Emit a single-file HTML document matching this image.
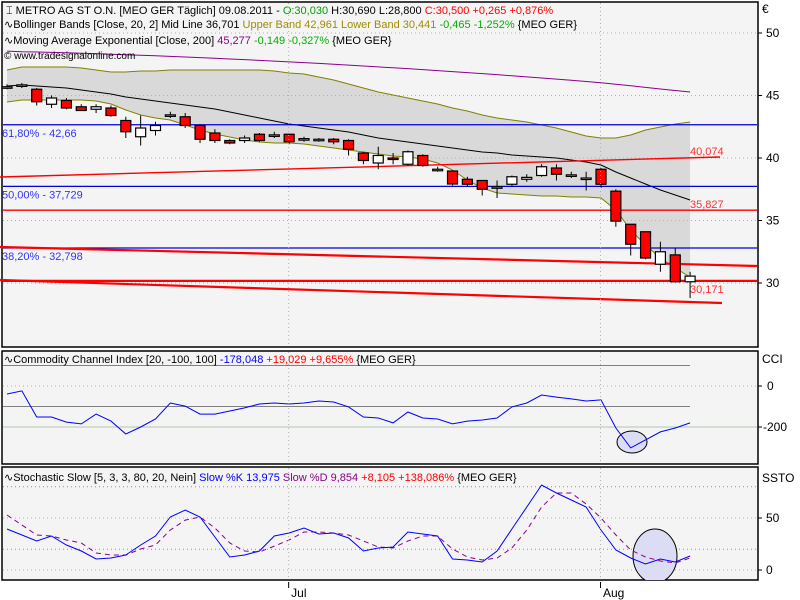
<!DOCTYPE html>
<html><head><meta charset="utf-8">
<style>
body{margin:0;background:#fff;}
svg{display:block;font-family:"Liberation Sans",sans-serif;}
</style></head>
<body>
<svg id="c" width="800" height="600" viewBox="0 0 800 600">
<rect x="0" y="0" width="800" height="600" fill="#ffffff"/>
<rect x="2" y="2" width="756" height="345" fill="#f4f4f4" stroke="#000" stroke-width="1.5"/>
<rect x="2" y="351" width="756" height="113" fill="#f4f4f4" stroke="#000" stroke-width="1.5"/>
<rect x="2" y="467" width="756" height="113" fill="#f4f4f4" stroke="#000" stroke-width="1.5"/>
<g id="price"></g>
<g id="cci"></g>
<g id="sto"></g>
<g font-size="11">
<text x="6" y="14">⌶ METRO AG ST O.N. [MEO GER  Täglich] 09.08.2011 - <tspan fill="#00a000">O:30,030</tspan> H:30,690 L:28,800 <tspan fill="#ff0000">C:30,500 +0,265 +0,876%</tspan></text>
<text x="4" y="28">∿Bollinger Bands [Close, 20, 2] Mid Line 36,701 <tspan fill="#a08c00">Upper Band 42,961 Lower Band 30,441</tspan> <tspan fill="#00b000">-0,465 -1,252%</tspan> {MEO GER}</text>
<text x="4" y="44">∿Moving Average Exponential [Close, 200] <tspan fill="#8b008b">45,277</tspan> <tspan fill="#00b000">-0,149 -0,327%</tspan> {MEO GER}</text>
<text x="4" y="59" font-size="10">© www.tradesignalonline.com</text>
</g>
<text x="4" y="363" font-size="11">∿Commodity Channel Index [20, -100, 100] <tspan fill="#0000ff">-178,048</tspan> <tspan fill="#ff0000">+19,029 +9,655%</tspan> {MEO GER}</text>
<text x="4" y="481" font-size="11">∿Stochastic Slow [5, 3, 3, 80, 20, Nein] <tspan fill="#0000ff">Slow %K 13,975</tspan> <tspan fill="#8b008b">Slow %D 9,854</tspan> <tspan fill="#ff0000">+8,105 +138,086%</tspan> {MEO GER}</text>
<g font-size="12">
<text x="762" y="13">€</text>
<text x="762" y="363">CCI</text>
<text x="762" y="482">SSTO</text>
</g>
<g id="xax" font-size="12"></g>
</svg>
<script>
const NS="http://www.w3.org/2000/svg";
const opens=[45.7,45.8,45.5,44.3,44.6,44.1,43.9,44.0,43.0,41.7,42.2,43.4,43.3,42.6,42.0,41.4,41.4,41.9,41.8,41.9,41.5,41.45,41.5,41.4,40.4,39.6,40.0,39.5,40.2,39.1,38.96,38.3,38.2,37.7,37.9,38.3,38.6,39.2,38.65,38.4,39.1,37.35,34.7,34.1,31.5,32.25,30.1];
const highs=[45.9,46.0,45.6,45.0,44.8,44.3,44.3,44.2,43.3,43.4,42.9,43.7,43.6,42.7,42.3,41.5,41.8,42.0,42.1,41.95,41.7,41.6,41.6,41.5,40.5,40.9,40.4,40.6,40.3,39.3,38.96,38.5,38.2,38.2,38.6,38.7,39.5,39.5,38.9,38.9,39.2,37.5,34.7,34.1,33.3,32.8,30.9];
const lows=[45.5,45.6,44.2,44.0,43.9,43.8,43.6,43.3,41.6,41.0,41.8,43.2,42.4,41.2,41.2,41.1,41.2,41.3,41.6,41.1,41.3,41.3,41.1,40.2,39.5,39.1,39.5,39.4,39.3,38.9,37.8,37.7,37.0,36.8,37.7,38.1,38.5,38.2,38.4,37.4,37.6,34.5,32.2,31.9,30.9,30.1,28.8];
const closes=[45.7,45.85,44.5,44.8,44.0,43.8,44.1,43.4,42.1,42.4,42.6,43.45,42.6,41.5,41.4,41.2,41.6,41.4,41.85,41.3,41.55,41.5,41.3,40.7,39.8,40.2,39.9,40.5,39.4,39.1,37.92,37.9,37.5,37.7,38.5,38.45,39.3,38.7,38.65,38.4,37.9,34.95,33.1,32.0,32.5,30.1,30.55];
const upperBand=[47.04,47.28,47.28,47.28,47.28,47.2,47.04,46.88,46.88,46.96,46.96,47.04,47.04,47.04,47.04,47.04,47.04,47.04,46.96,46.8,46.72,46.48,46.24,45.92,45.6,45.28,45.04,44.8,44.56,44.32,44.0,43.76,43.44,43.2,43.04,42.88,42.64,42.4,42.08,41.76,41.6,41.6,41.84,42.24,42.48,42.72,42.88];
const midBand=[45.76,45.84,45.76,45.68,45.6,45.44,45.28,45.12,44.88,44.72,44.56,44.4,44.24,44.08,43.92,43.68,43.44,43.2,42.96,42.72,42.56,42.4,42.24,42.08,41.84,41.6,41.44,41.28,41.12,40.96,40.8,40.64,40.48,40.4,40.24,40.16,40.08,40.0,39.84,39.68,39.44,38.88,38.4,37.92,37.44,37.04,36.64];
const lowerBand=[44.48,44.64,44.64,44.64,44.64,44.64,44.56,44.32,43.84,43.44,43.2,43.04,42.64,42.24,41.92,41.68,41.44,41.28,41.2,41.2,41.12,40.96,40.8,40.64,40.48,40.32,40.16,40.08,39.92,39.6,39.04,38.24,37.6,37.2,37.12,37.04,36.96,36.96,36.88,36.88,36.8,35.84,34.24,33.04,32.0,31.2,30.48];
const ema200=[48.55,48.5,48.48,48.45,48.42,48.38,48.35,48.3,48.26,48.22,48.18,48.13,48.08,48.03,47.98,47.92,47.87,47.81,47.75,47.69,47.63,47.57,47.5,47.43,47.36,47.29,47.22,47.15,47.07,46.99,46.91,46.83,46.75,46.67,46.58,46.49,46.4,46.31,46.22,46.12,46.02,45.9,45.78,45.65,45.52,45.4,45.28];
const cciValues=[-39,-24,-151,-151,-176,-185,-137,-171,-234,-200,-161,-83,-98,-137,-137,-122,-107,-88,-83,-88,-83,-73,-78,-102,-151,-156,-180,-127,-156,-161,-185,-171,-166,-156,-102,-83,-44,-54,-63,-73,-68,-205,-302,-263,-224,-205,-180];
const stochK=[39.4,33.7,27.9,32.7,24,18.3,10.6,11.5,14.4,24,32.7,51,57.7,51,31.7,12.5,14.4,18.3,32.7,35.6,40.4,34.6,35.6,30.8,18.3,21.2,22.1,36.5,34.6,32.7,10.6,9.6,7.7,18.3,39.4,60.6,81.7,74,67.3,60.6,38.5,19.2,11.5,5.8,10.6,7.7,13.5];
const stochD=[52.9,43.3,33.7,32.7,28.8,26,16.3,14.4,14.4,20.2,24,38.5,48,51,40.4,26,18.3,17.3,23,28.8,36.5,36.5,35.6,33.7,27.9,22.1,21.2,27.9,32.7,32.7,20.2,12.5,9.6,11.5,21.2,38.5,60.6,74,74,63.5,50,33.7,19.2,12.5,8.7,6.7,11.5];
const priceTicks=[50,45,40,35,30];
const cciTicks=[0,-200];
const stochTicks=[50,0];
const fibLevels=[42.66,37.729,32.798];
const fibLabels=["61,80% - 42,66","50,00% - 37,729","38,20% - 32,798"];
const hLevels=[35.827,30.171];
const hLabels=["40,074","35,827","30,171"];
const monthLabels=["Jul","Aug"];
const monthIndex=[19,40];

const X=i=>7+i*14.85;
const Y=v=>33+(50-v)*12.5;
const Yc=v=>386-v*0.205;
const Ys=v=>570-v*1.04;
function mk(tag,attrs,parent){const e=document.createElementNS(NS,tag);for(const k in attrs)e.setAttribute(k,attrs[k]);parent.appendChild(e);return e;}
const P=document.getElementById('price'),C=document.getElementById('cci'),S=document.getElementById('sto'),XA=document.getElementById('xax'),root=document.getElementById('c');
const poly=(arr,f)=>arr.map((v,i)=>X(i).toFixed(1)+','+f(v).toFixed(1)).join(' ');

let bandPts=upperBand.map((v,i)=>X(i)+','+Y(v)).concat(lowerBand.map((v,i)=>[X(i),Y(v)]).reverse().map(p=>p[0]+','+p[1])).join(' ');
let e=mk('polygon',{points:bandPts,fill:'#d9d9d9',stroke:'none'},P);


priceTicks.forEach((t,k)=>{
 let g=mk('line',{x1:3,x2:757,y1:Y(t),y2:Y(t),stroke:'#b0b0b0','stroke-dasharray':'1,3'},P);
 
 
 let tk=mk('line',{x1:758,x2:762,y1:Y(t),y2:Y(t),stroke:'#000'},root);
 
 
 let tx=mk('text',{x:766,y:Y(t)+4,'font-size':12},root);tx.textContent=t;
 
 
});
monthIndex.forEach((mi,k)=>{
 [[3,346],[352,463],[468,579]].forEach(r=>{
  let g=mk('line',{x1:X(mi)-0.5,x2:X(mi)-0.5,y1:r[0],y2:r[1],stroke:'#b0b0b0','stroke-dasharray':'1,3'},root);
  
  
 });
 let t=mk('line',{x1:X(mi)-0.5,x2:X(mi)-0.5,y1:582,y2:588,stroke:'#000'},XA);
 
 
 let tx=mk('text',{x:X(mi)+2,y:597},XA);tx.textContent=monthLabels[k];
 
 
});
[[upperBand,'#808000','upper-band'],[lowerBand,'#808000','lower-band'],[midBand,'#000000','mid-band'],[ema200,'#8b008b','ema-200']].forEach(s=>{
 let l=mk('polyline',{points:poly(s[0],Y),fill:'none',stroke:s[1],'stroke-width':1},P);
 
 
});
fibLevels.forEach((v,k)=>{
 let l=mk('line',{x1:3,x2:757,y1:Y(v),y2:Y(v),stroke:'#0000e0','stroke-width':1.2},P);
 
 
 let t=mk('text',{x:2,y:Y(v)+12,'font-size':11,fill:'#3333ff'},P);t.textContent=fibLabels[k];
 
 
});
hLevels.forEach((v,k)=>{
 let l=mk('line',{x1:3,x2:757,y1:Y(v),y2:Y(v),stroke:'#ff0000','stroke-width':k?2.2:1.4},P);
 
 
});
[[0,177,720,157,1.4],[0,247,757,266,2.2],[0,280,722,303,2.2]].forEach(s=>{
 let l=mk('line',{x1:s[0],y1:s[1],x2:s[2],y2:s[3],stroke:'#ff0000','stroke-width':s[4]},P);
 
 
});
[[40.074,-6],[35.827,-6],[30.171,8]].forEach((s,k)=>{
 let t=mk('text',{x:690,y:Y(s[0])+s[1]+4,'font-size':11,fill:'#ff3030'},P);t.textContent=hLabels[k];
 
 
});
opens.forEach((o,i)=>{
 const c=closes[i],x=X(i),up=c>=o;
 let w=mk('line',{x1:x,x2:x,y1:Y(highs[i]),y2:Y(lows[i]),stroke:'#000','stroke-width':1},P);
 
 
 const top=Y(Math.max(o,c)),bot=Y(Math.min(o,c));
 let b=mk('rect',{x:x-5,y:top,width:10,height:Math.max(bot-top,1.5),fill:up?'#ffffff':'#ff0000',stroke:'#000','stroke-width':1.2},P);
 
 
});
[[100,'#808080'],[-100,'#808080']].forEach(s=>{
 let l=mk('line',{x1:3,x2:690,y1:Yc(s[0]),y2:Yc(s[0]),stroke:s[1]},C);
 
 
});
let g0=mk('line',{x1:3,x2:757,y1:Yc(0),y2:Yc(0),stroke:'#a0c0a0','stroke-dasharray':'1,3'},C);


let g2=mk('line',{x1:3,x2:757,y1:Yc(-200),y2:Yc(-200),stroke:'#b0c8b0'},C);


cciTicks.forEach(t=>{
 let tk=mk('line',{x1:758,x2:762,y1:Yc(t),y2:Yc(t),stroke:'#000'},root);
 
 
 let tx=mk('text',{x:t<0?763:767,y:Yc(t)+4,'font-size':12},root);tx.textContent=t;
 
 
});
let ce=mk('ellipse',{cx:632,cy:442,rx:15,ry:11,fill:'#dcdcf4',stroke:'#000','stroke-width':1},C);


let cl=mk('polyline',{points:poly(cciValues,Yc),fill:'none',stroke:'#0000ff','stroke-width':1},C);


[80,50,20,0].forEach(v=>{
 let l=mk('line',{x1:3,x2:757,y1:Ys(v),y2:Ys(v),stroke:(v==50||v==0)?'#a0c0a0':'#909090','stroke-dasharray':'1,3'},S);
 
 
});
stochTicks.forEach(t=>{
 let tk=mk('line',{x1:758,x2:762,y1:Ys(t),y2:Ys(t),stroke:'#000'},root);
 
 
 let tx=mk('text',{x:766,y:Ys(t)+4,'font-size':12},root);tx.textContent=t;
 
 
});
let cp=mk('clipPath',{id:'sc'},S);mk('rect',{x:2,y:467,width:756,height:113},cp);
let se=mk('ellipse',{cx:655,cy:556,rx:22,ry:27,fill:'#dcdcf4',stroke:'#000','stroke-width':1,'clip-path':'url(#sc)'},S);


let sd=mk('polyline',{points:poly(stochD,Ys),fill:'none',stroke:'#8b008b','stroke-width':1,'stroke-dasharray':'5,4'},S);


let sk=mk('polyline',{points:poly(stochK,Ys),fill:'none',stroke:'#0000ff','stroke-width':1},S);


</script>
</body></html>
